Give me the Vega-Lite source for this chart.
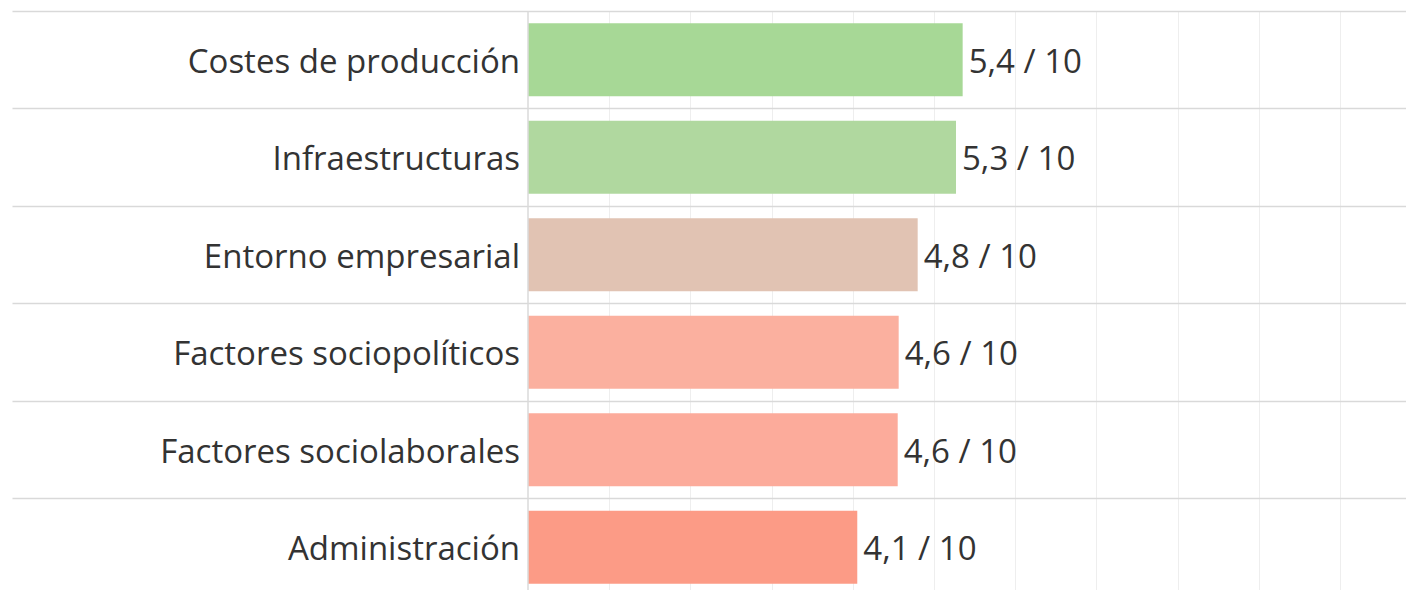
{
  "$schema": "https://vega.github.io/schema/vega-lite/v6.json",
  "width": 1394,
  "height": 585,
  "padding": {"left": 12, "top": 11, "right": 0, "bottom": 0},
  "autosize": {"type": "none"},
  "background": "white",
  "config": {"view": {"stroke": null}},
  "data": {
    "values": [
      {"factor": "Costes de producción", "value": 5.353, "label": "5,4 / 10", "color": "#a7d896"},
      {"factor": "Infraestructuras", "value": 5.271, "label": "5,3 / 10", "color": "#b0d89f"},
      {"factor": "Entorno empresarial", "value": 4.799, "label": "4,8 / 10", "color": "#e1c3b3"},
      {"factor": "Factores sociopolíticos", "value": 4.565, "label": "4,6 / 10", "color": "#fbb09f"},
      {"factor": "Factores sociolaborales", "value": 4.553, "label": "4,6 / 10", "color": "#fcab9b"},
      {"factor": "Administración", "value": 4.055, "label": "4,1 / 10", "color": "#fc9b86"}
    ]
  },
  "encoding": {
    "y": {"field": "factor", "type": "nominal", "sort": null,
      "scale": {"paddingInner": 0, "paddingOuter": 0},
      "axis": {"title": null, "labels": false, "ticks": false, "domain": false, "grid": true, "bandPosition": 0, "gridColor": "#d9d9d9", "gridWidth": 1.5}}
  },
  "layer": [
    {
      "mark": {"type": "bar", "size": 73},
      "encoding": {
        "x": {"field": "value", "type": "quantitative",
          "scale": {"domain": [-6.355, 10.813], "nice": false, "zero": false},
          "axis": {"title": null, "labels": false, "ticks": false, "domain": false, "grid": true, "values": [1,2,3,4,5,6,7,8,9,10], "gridColor": "#eeeeee", "gridWidth": 1}},
        "color": {"field": "color", "type": "nominal", "scale": null}
      }
    },
    {
      "mark": {"type": "text", "align": "left", "baseline": "middle", "dx": 6, "dy": 3, "font": "Open Sans", "fontSize": 33, "color": "#333333"},
      "encoding": {
        "x": {"field": "value", "type": "quantitative"},
        "text": {"field": "label"}
      }
    },
    {
      "mark": {"type": "text", "align": "right", "baseline": "middle", "dx": -8, "dy": 3, "font": "Open Sans", "fontSize": 33, "color": "#333333"},
      "encoding": {
        "x": {"datum": 0, "type": "quantitative"},
        "text": {"field": "factor"}
      }
    },
    {
      "data": {"values": [{"z": 0}]},
      "mark": {"type": "rule", "color": "#dadada", "strokeWidth": 1.5},
      "encoding": {"x": {"field": "z", "type": "quantitative"}, "y": null}
    }
  ]
}
